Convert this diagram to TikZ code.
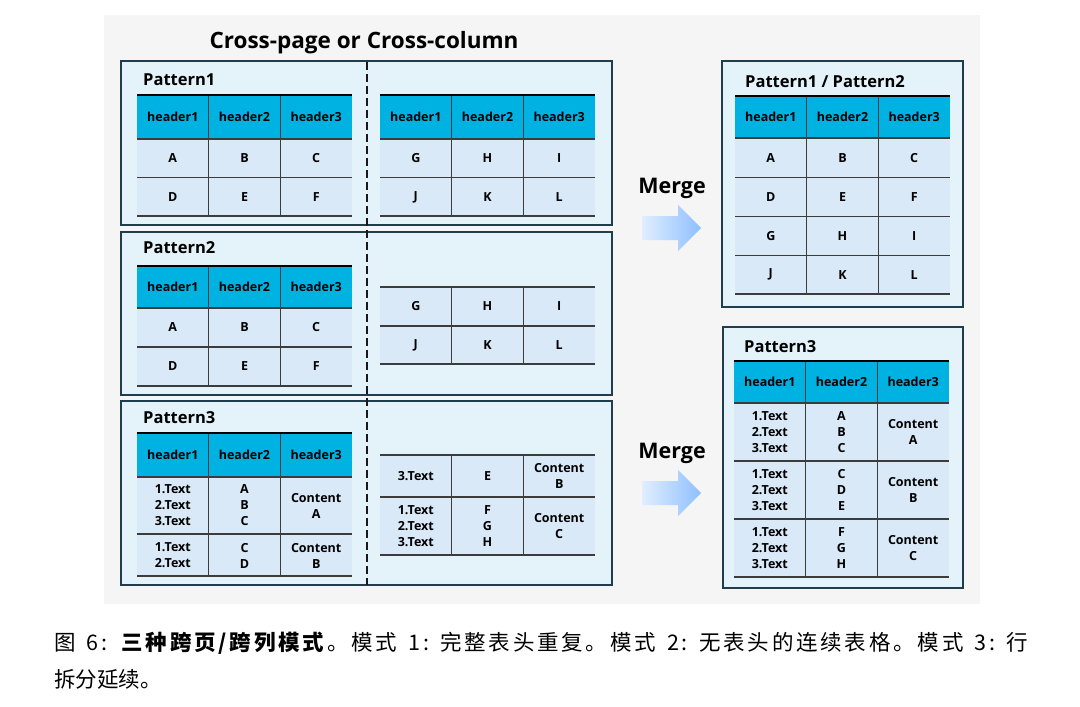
\documentclass[tikz,border=0pt]{standalone}
\usepackage{fontspec}
\setsansfont{Open Sans}
\newfontfamily\cjkfont{Noto Sans CJK SC}
\newfontfamily\cjkwidefont{Noto Sans CJK SC}[LetterSpace=13]
\usepackage{xcolor}
\usepackage{tikz}
\usetikzlibrary{positioning}

\definecolor{pagegray}{HTML}{F5F5F5}
\definecolor{boxfill}{HTML}{E4F2FA}
\definecolor{boxline}{HTML}{1F3D4C}
\definecolor{hdrfill}{HTML}{00B2E2}
\definecolor{cellfill}{HTML}{D9E9F7}
\definecolor{ruleline}{HTML}{3C3C3C}
\definecolor{arrowleft}{HTML}{E1EEFF}
\definecolor{arrowright}{HTML}{8DBFFF}

\begin{document}
\begin{tikzpicture}[
  x=1pt, y=-1pt,
  panel/.style={draw=boxline, line width=2pt, fill=boxfill},
  hdrcell/.style={fill=hdrfill},
  bodycell/.style={fill=cellfill},
  rule/.style={draw=ruleline, line width=1.3pt},
  toprule/.style={draw=black, line width=2.4pt},
  cutline/.style={draw=black!90, line width=2pt, dash pattern=on 8pt off 4pt},
  cell/.style={font=\sffamily\bfseries\fontsize{12.5}{16}\selectfont, align=center, inner sep=0pt},
  tag/.style={font=\sffamily\bfseries\fontsize{16.5}{20}\selectfont, anchor=base west, inner sep=0pt},
  heading/.style={font=\sffamily\bfseries\fontsize{22.5}{27}\selectfont, anchor=base, inner sep=0pt},
  mergelabel/.style={font=\sffamily\bfseries\fontsize{21.5}{25}\selectfont, anchor=base, inner sep=0pt},
  mergearrow/.style={left color=arrowleft, right color=arrowright, draw=none},
  caption/.style={font=\cjkfont\fontsize{21.5}{26}\selectfont, anchor=base west, inner sep=0pt},
  widecaption/.style={caption, font=\cjkwidefont\fontsize{21.5}{26}\selectfont}
]
\useasboundingbox (0,0) rectangle (1080,707);
\fill[white] (0,0) rectangle (1080,707);
\fill[pagegray] (104,15) rectangle (980,604);

\node[heading] (title) at (364,48) {Cross-page or Cross-column};

% panels
\draw[panel] (121,61) rectangle (612,225);
\draw[panel] (121,232) rectangle (612,395);
\draw[panel] (121,401) rectangle (612,585);
\draw[panel] (722,61) rectangle (963,307);
\draw[panel] (723,327) rectangle (963,588);

\node[tag] (pat1) at (143,85) {Pattern1};
\node[tag] (pat2) at (143,253) {Pattern2};
\node[tag] (pat3) at (143,423) {Pattern3};
\node[tag] (pat12) at (745,87) {Pattern1 / Pattern2};
\node[tag] (pat3m) at (744,352) {Pattern3};

% tables with header: left/right/top/header bottom/bottom
\foreach \xa/\xb/\ya/\yh/\yb in {137/352/95/139/216, 380/595/95/139/216,
    137/352/266/308/386, 137/352/433/477/576, 735/950/96/138/294, 734/949/361/403/577} {
  \fill[bodycell] (\xa,\yh) rectangle (\xb,\yb);
  \fill[hdrcell] (\xa,\ya) rectangle (\xb,\yh);
  \draw[rule] (\xa,\yh) -- (\xb,\yh);
  \draw[rule] (\xa,\yb) -- (\xb,\yb);
  \draw[rule] ({\xa+71.67},\ya) -- ({\xa+71.67},\yb);
  \draw[rule] ({\xa+143.33},\ya) -- ({\xa+143.33},\yb);
  \draw[toprule] (\xa,\ya) -- (\xb,\ya);
}
% tables without header
\foreach \xa/\xb/\ya/\yb in {380/595/287/364, 380/595/455/555} {
  \fill[bodycell] (\xa,\ya) rectangle (\xb,\yb);
  \draw[rule] (\xa,\ya) -- (\xb,\ya);
  \draw[rule] (\xa,\yb) -- (\xb,\yb);
  \draw[rule] ({\xa+71.67},\ya) -- ({\xa+71.67},\yb);
  \draw[rule] ({\xa+143.33},\ya) -- ({\xa+143.33},\yb);
}
% inner row lines
\foreach \xa/\y in {137/177.5, 380/177.5, 137/347, 380/326, 137/534, 380/497,
    735/177.5, 735/216.5, 735/255.5, 734/461, 734/519}
  \draw[rule] (\xa,\y) -- ({\xa+215},\y);

% cell texts
\foreach \tab/\xa/\y/\a/\b/\c in {
    p1lh/137/117/header1/header2/header3, p1la/137/158/A/B/C, p1lb/137/197/D/E/F,
    p1rh/380/117/header1/header2/header3, p1ra/380/158/G/H/I, p1rb/380/197/J/K/L,
    p2lh/137/287/header1/header2/header3, p2la/137/327.5/A/B/C, p2lb/137/366.5/D/E/F,
    p2ra/380/306.5/G/H/I, p2rb/380/345/J/K/L,
    p3lh/137/455/header1/header2/header3,
    p3la/137/505.5/{1.Text\\2.Text\\3.Text}/{A\\B\\C}/{Content\\A},
    p3lb/137/555.5/{1.Text\\2.Text}/{C\\D}/{Content\\B},
    p3ra/380/476/3.Text/E/{Content\\B},
    p3rb/380/526.5/{1.Text\\2.Text\\3.Text}/{F\\G\\H}/{Content\\C},
    m1h/735/117/header1/header2/header3, m1a/735/157.7/A/B/C, m1b/735/197/D/E/F,
    m1c/735/236/G/H/I, m1d/735/274.7/J/K/L,
    m3h/734/382/header1/header2/header3,
    m3a/734/432/{1.Text\\2.Text\\3.Text}/{A\\B\\C}/{Content\\A},
    m3b/734/490/{1.Text\\2.Text\\3.Text}/{C\\D\\E}/{Content\\B},
    m3c/734/548/{1.Text\\2.Text\\3.Text}/{F\\G\\H}/{Content\\C}} {
  \node[cell] (\tab1) at ({\xa+35.8},\y) {\a};
  \node[cell] (\tab2) at ({\xa+107.5},\y) {\b};
  \node[cell] (\tab3) at ({\xa+179.2},\y) {\c};
}

% page / column break
\coordinate (cuttop) at (366.5,62);
\coordinate (cutbot) at (366.5,585);
\draw[cutline] (cuttop) -- (cutbot);

% merge arrows
\foreach \y/\n in {193/1, 458/2} {
  \node[mergelabel] (merge\n) at (672,\y) {Merge};
  \begin{scope}[shift={(0,\y)}]
    \shade[mergearrow] (642,23) -- (678,23) -- (678,12) -- (701,35) -- (678,58) -- (678,47) -- (642,47) -- cycle;
  \end{scope}
}

% caption
\def\gap{\hspace{0.25em plus 0.5em minus 0.2em}}
\node[widecaption] (cap1) at (54,650) {\makebox[974pt][s]{图\gap 6:\gap\textbf{三种跨页/跨列模式}。模式\gap 1:\gap 完整表头重复。模式\gap 2:\gap 无表头的连续表格。模式\gap 3:\gap 行}};
\node[caption] (cap2) at (54,687) {拆分延续。};
\end{tikzpicture}
\end{document}
